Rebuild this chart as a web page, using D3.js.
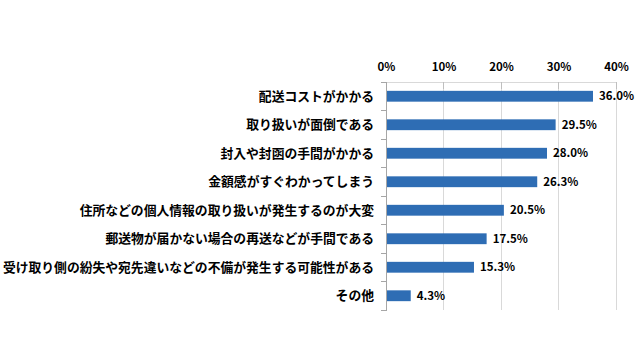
<!DOCTYPE html>
<html><head><meta charset="utf-8">
<script src="https://cdn.jsdelivr.net/npm/d3@7"></script>
<style>
html,body{margin:0;padding:0;background:#fff;}
svg text{font-family:"Noto Sans CJK JP","Noto Sans",sans-serif;font-weight:bold;fill:#000;}
</style></head>
<body><svg id="c" width="640" height="360"></svg>
<script>
const categories = [
  "配送コストがかかる",
  "取り扱いが面倒である",
  "封入や封函の手間がかかる",
  "金額感がすぐわかってしまう",
  "住所などの個人情報の取り扱いが発生するのが大変",
  "郵送物が届かない場合の再送などが手間である",
  "受け取り側の紛失や宛先違いなどの不備が発生する可能性がある",
  "その他"
];
const values = [36.0, 29.5, 28.0, 26.3, 20.5, 17.5, 15.3, 4.3];
const tickValues = [0, 10, 20, 30, 40];

const svg = d3.select("#c");
const x = d3.scaleLinear().domain([0, 40]).range([386, 616]);
const y = d3.scaleBand().domain(categories).range([82, 310]).paddingInner(0.62).paddingOuter(0.31);
const yb = d3.scaleBand().domain(categories).range([82, 310]);

// gridlines
svg.append("g").selectAll("line").data(tickValues).join("line")
  .attr("x1", d => x(d)).attr("x2", d => x(d))
  .attr("y1", 82).attr("y2", 310)
  .attr("stroke", "#d9d9d9").attr("stroke-width", 1).attr("shape-rendering", "crispEdges");

// top axis
const xAxis = d3.axisTop(x).tickValues(tickValues).tickFormat(d => d + "%").tickSize(0).tickPadding(11);
const gx = svg.append("g").attr("transform", "translate(0,82)").call(xAxis);
gx.select(".domain").attr("stroke", "#d9d9d9");
gx.selectAll("text").style("font-size", "11.5px").attr("font-family", "'Open Sans',sans-serif");
// small tick marks down from top
svg.append("g").selectAll("line").data(tickValues).join("line")
  .attr("x1", d => x(d)).attr("x2", d => x(d))
  .attr("y1", 82).attr("y2", 89)
  .attr("stroke", "#bfbfbf").attr("shape-rendering", "crispEdges");

// left axis
svg.append("line").attr("x1", 386).attr("x2", 386).attr("y1", 82).attr("y2", 311)
  .attr("stroke", "#a6a6a6").attr("shape-rendering", "crispEdges");
const bounds = categories.map(c => yb(c)).concat([yb(categories[categories.length-1]) + yb.bandwidth()]);
svg.append("g").selectAll("line").data(bounds).join("line")
  .attr("x1", 381).attr("x2", 386).attr("y1", d => d).attr("y2", d => d)
  .attr("stroke", "#a6a6a6").attr("shape-rendering", "crispEdges");

// bars
svg.append("g").selectAll("rect").data(values).join("rect")
  .attr("x", x(0) + 1)
  .attr("y", (d, i) => y(categories[i]))
  .attr("width", d => x(d) - x(0) - 1)
  .attr("height", y.bandwidth())
  .attr("fill", "#2e6db4");

// value labels
svg.append("g").selectAll("text").data(values).join("text")
  .attr("x", d => x(d) + 6)
  .attr("y", (d, i) => y(categories[i]) + y.bandwidth() / 2)
  .attr("dy", "0.36em")
  .style("font-size", "11.5px")
  .attr("font-family", "'Open Sans',sans-serif")
  .text(d => d.toFixed(1) + "%");

// category labels
svg.append("g").selectAll("text").data(categories).join("text")
  .attr("x", 374)
  .attr("y", d => y(d) + y.bandwidth() / 2)
  .attr("dy", "0.36em")
  .attr("text-anchor", "end")
  .style("font-size", "12.8px")
  .text(d => d);
</script></body></html>
